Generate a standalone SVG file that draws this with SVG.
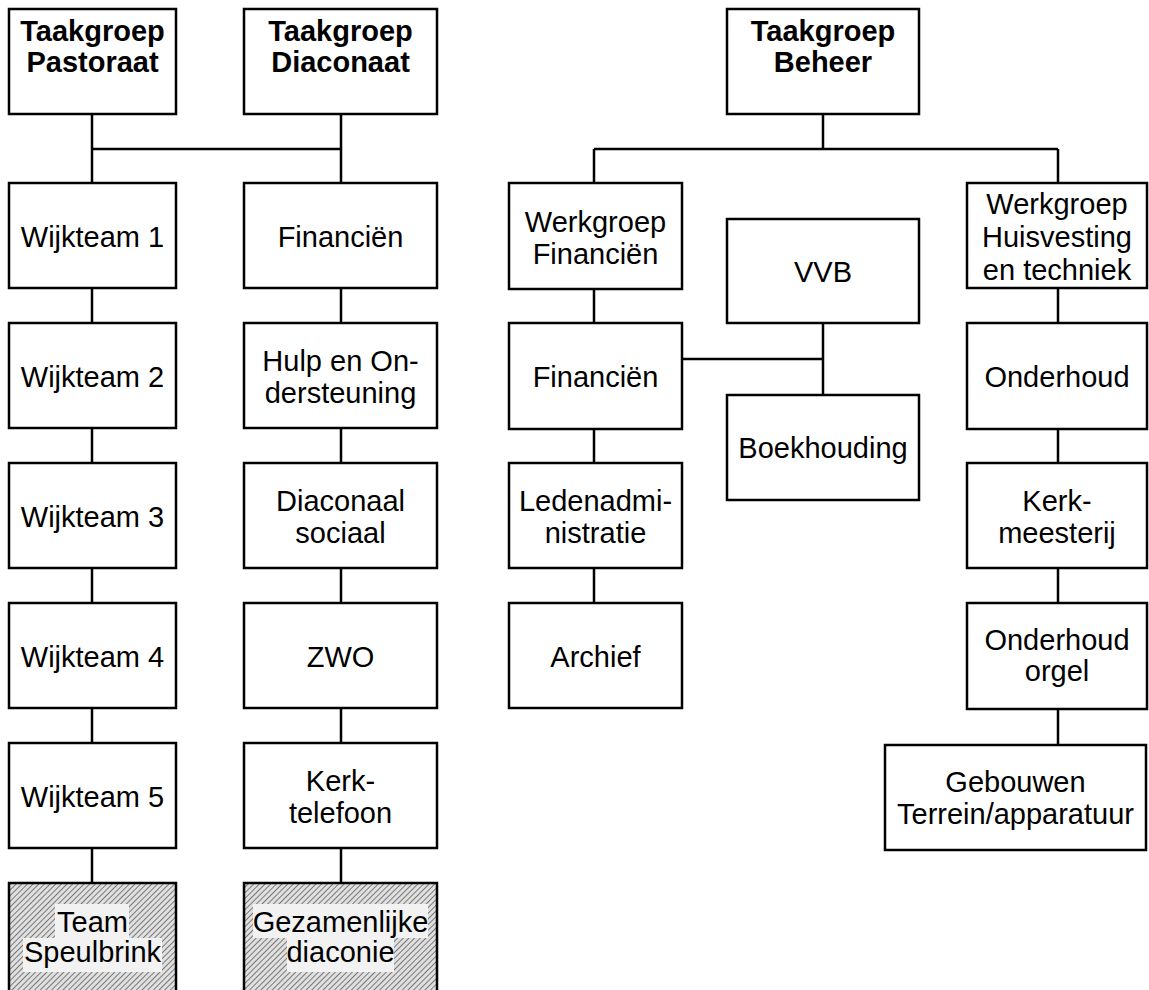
<svg xmlns="http://www.w3.org/2000/svg" width="1149" height="990" viewBox="0 0 1149 990">
<style>
.box{fill:#fff;stroke:#000;stroke-width:2.5}
.hb{fill:url(#hatch);stroke:#000;stroke-width:2.5}
.t{font-family:"Liberation Sans",Arial,sans-serif;font-size:29px;fill:#000;text-anchor:middle}
.b{font-weight:bold}
.hl{fill:#f2f2f2}
#conn line{stroke:#000;stroke-width:2.5}
</style>
<defs>
<pattern id="hatch" patternUnits="userSpaceOnUse" width="4" height="4" patternTransform="rotate(45)">
<rect width="4" height="4" fill="#e0e0e0"/>
<line x1="0" y1="0" x2="0" y2="4" stroke="#555" stroke-width="1.5"/>
</pattern>
</defs>
<rect width="1149" height="990" fill="#fff"/>
<g id="conn">
<line x1="92" y1="114" x2="92" y2="183"/>
<line x1="341" y1="114" x2="341" y2="183"/>
<line x1="92" y1="149" x2="341" y2="149"/>
<line x1="92" y1="288" x2="92" y2="323"/>
<line x1="92" y1="428" x2="92" y2="463"/>
<line x1="92" y1="568" x2="92" y2="603"/>
<line x1="92" y1="708" x2="92" y2="743"/>
<line x1="92" y1="848" x2="92" y2="883"/>
<line x1="341" y1="288" x2="341" y2="323"/>
<line x1="341" y1="428" x2="341" y2="463"/>
<line x1="341" y1="568" x2="341" y2="603"/>
<line x1="341" y1="708" x2="341" y2="743"/>
<line x1="341" y1="848" x2="341" y2="883"/>
<line x1="823" y1="114" x2="823" y2="149"/>
<line x1="594" y1="149" x2="1058" y2="149"/>
<line x1="594" y1="149" x2="594" y2="183"/>
<line x1="1058" y1="149" x2="1058" y2="183"/>
<line x1="594" y1="288" x2="594" y2="323"/>
<line x1="594" y1="428" x2="594" y2="463"/>
<line x1="594" y1="568" x2="594" y2="603"/>
<line x1="682" y1="359" x2="823" y2="359"/>
<line x1="823" y1="323" x2="823" y2="395"/>
<line x1="1058" y1="288" x2="1058" y2="323"/>
<line x1="1058" y1="428" x2="1058" y2="463"/>
<line x1="1058" y1="568" x2="1058" y2="603"/>
<line x1="1058" y1="708" x2="1058" y2="745"/>
</g>
<g id="tg-pastoraat"><rect class="box" x="9" y="9" width="167" height="105"/><text class="t b" x="92.5" y="41">Taakgroep</text><text class="t b" x="92.5" y="72">Pastoraat</text></g>
<g id="tg-diaconaat"><rect class="box" x="244" y="9" width="193" height="105"/><text class="t b" x="340.5" y="41">Taakgroep</text><text class="t b" x="340.5" y="72">Diaconaat</text></g>
<g id="tg-beheer"><rect class="box" x="727" y="9" width="192" height="105"/><text class="t b" x="823" y="41">Taakgroep</text><text class="t b" x="823" y="72">Beheer</text></g>

<g id="wijkteam1"><rect class="box" x="9" y="183" width="167" height="105"/><text class="t" x="92.5" y="246.5">Wijkteam 1</text></g>
<g id="wijkteam2"><rect class="box" x="9" y="323" width="167" height="105"/><text class="t" x="92.5" y="386.5">Wijkteam 2</text></g>
<g id="wijkteam3"><rect class="box" x="9" y="463" width="167" height="105"/><text class="t" x="92.5" y="526.5">Wijkteam 3</text></g>
<g id="wijkteam4"><rect class="box" x="9" y="603" width="167" height="105"/><text class="t" x="92.5" y="666.5">Wijkteam 4</text></g>
<g id="wijkteam5"><rect class="box" x="9" y="743" width="167" height="105"/><text class="t" x="92.5" y="806.5">Wijkteam 5</text></g>
<g id="team-speulbrink"><rect class="hb" x="9" y="883" width="167" height="115"/>
<rect class="hl" x="55" y="904" width="74" height="34"/><rect class="hl" x="23" y="938" width="139" height="34"/>
<text class="t" x="92.5" y="932">Team</text><text class="t" x="92.5" y="962">Speulbrink</text></g>

<g id="financien-d"><rect class="box" x="244" y="183" width="193" height="105"/><text class="t" x="340.5" y="246.5">Financiën</text></g>
<g id="hulp"><rect class="box" x="244" y="323" width="193" height="105"/><text class="t" x="340.5" y="371">Hulp en On-</text><text class="t" x="340.5" y="403">dersteuning</text></g>
<g id="diaconaal-sociaal"><rect class="box" x="244" y="463" width="193" height="105"/><text class="t" x="340.5" y="511">Diaconaal</text><text class="t" x="340.5" y="543">sociaal</text></g>
<g id="zwo"><rect class="box" x="244" y="603" width="193" height="105"/><text class="t" x="340.5" y="666.5">ZWO</text></g>
<g id="kerktelefoon"><rect class="box" x="244" y="743" width="193" height="105"/><text class="t" x="340.5" y="791">Kerk-</text><text class="t" x="340.5" y="823">telefoon</text></g>
<g id="gezamenlijke-diaconie"><rect class="hb" x="244" y="883" width="193" height="115"/>
<rect class="hl" x="253" y="904" width="175" height="34"/><rect class="hl" x="287" y="938" width="107" height="34"/>
<text class="t" x="340.5" y="932">Gezamenlijke</text><text class="t" x="340.5" y="962">diaconie</text></g>

<g id="wg-financien"><rect class="box" x="509" y="183" width="173" height="106"/><text class="t" x="595.5" y="232">Werkgroep</text><text class="t" x="595.5" y="264">Financiën</text></g>
<g id="financien-b"><rect class="box" x="509" y="323" width="173" height="106"/><text class="t" x="595.5" y="387">Financiën</text></g>
<g id="ledenadministratie"><rect class="box" x="509" y="463" width="173" height="105"/><text class="t" x="595.5" y="511">Ledenadmi-</text><text class="t" x="595.5" y="543">nistratie</text></g>
<g id="archief"><rect class="box" x="509" y="603" width="173" height="105"/><text class="t" x="595.5" y="666.5">Archief</text></g>

<g id="vvb"><rect class="box" x="727" y="219" width="192" height="104"/><text class="t" x="823" y="282">VVB</text></g>
<g id="boekhouding"><rect class="box" x="727" y="395" width="192" height="105"/><text class="t" x="823" y="458">Boekhouding</text></g>

<g id="wg-huisvesting"><rect class="box" x="967" y="183" width="180" height="105"/><text class="t" x="1057" y="214">Werkgroep</text><text class="t" x="1057" y="247">Huisvesting</text><text class="t" x="1057" y="280">en techniek</text></g>
<g id="onderhoud"><rect class="box" x="967" y="323" width="180" height="106"/><text class="t" x="1057" y="387">Onderhoud</text></g>
<g id="kerkmeesterij"><rect class="box" x="967" y="463" width="180" height="105"/><text class="t" x="1057" y="511">Kerk-</text><text class="t" x="1057" y="543">meesterij</text></g>
<g id="onderhoud-orgel"><rect class="box" x="967" y="603" width="180" height="106"/><text class="t" x="1057" y="650">Onderhoud</text><text class="t" x="1057" y="681">orgel</text></g>
<g id="gebouwen"><rect class="box" x="885" y="745" width="261" height="105"/><text class="t" x="1015.5" y="791.5">Gebouwen</text><text class="t" x="1015.5" y="824">Terrein/apparatuur</text></g>
</svg>
